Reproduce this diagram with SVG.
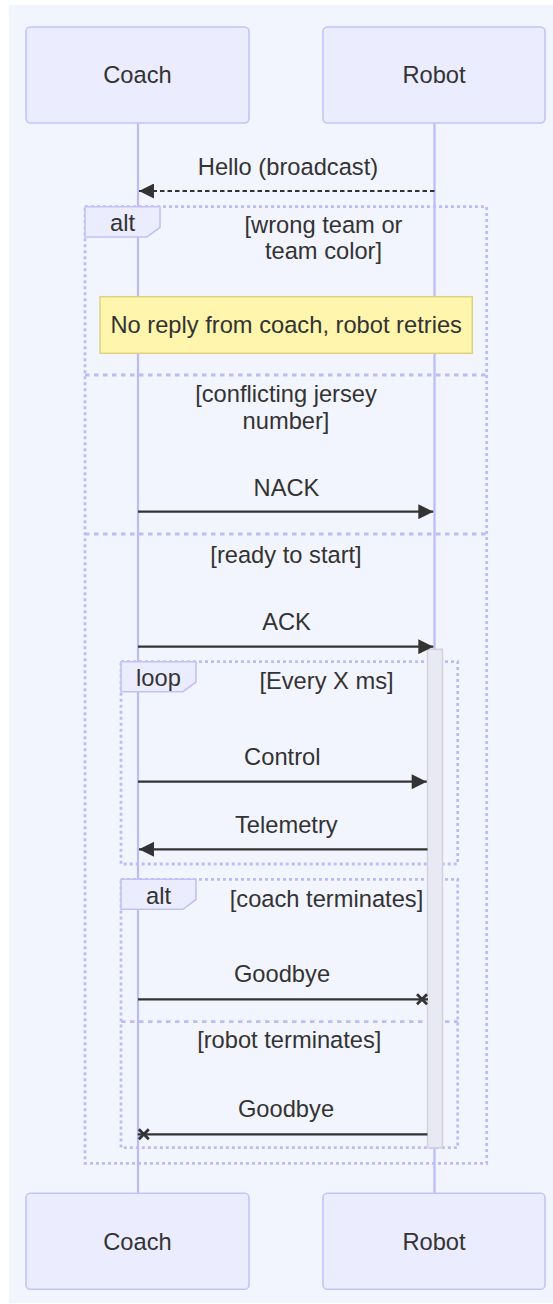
<svg xmlns="http://www.w3.org/2000/svg" width="553" height="1304" viewBox="0 0 553 1304">
  <style>
    text { font-family: "Liberation Sans", Arial, Helvetica, sans-serif; font-size: 23.7px; fill: #333333; text-anchor: middle; }
    .actor { fill: #ECECFF; stroke: #C4C4F8; stroke-width: 1.6; }
    .life { stroke: #BBBBF6; stroke-width: 2.2; }
    .frame { fill: none; stroke: #BDBDF6; stroke-width: 2.8; stroke-dasharray: 3 3; }
    .sep { fill: none; stroke: #BDBDF6; stroke-width: 2.8; stroke-dasharray: 4.5 4.5; }
    .lbl { fill: #ECECFF; stroke: #C2C2F7; stroke-width: 1.6; }
    .msg { fill: none; stroke: #333333; stroke-width: 2.2; }
    .dashed { stroke-dasharray: 4.5 3; }
    .note { fill: #FFF5AD; stroke: #DCD382; stroke-width: 1.5; }
    .activation { fill: #E9E9F3; stroke: #D2D2DE; stroke-width: 1.5; }
  </style>
  <defs>
    <marker id="arrowhead" viewBox="0 0 10 10" refX="10" refY="5" markerUnits="userSpaceOnUse" markerWidth="16" markerHeight="15" orient="auto">
      <path d="M0,0 L10,5 L0,10 z" fill="#333333"/>
    </marker>
    <marker id="crosshead" viewBox="0 0 13 13" refX="12.5" refY="6.5" markerUnits="userSpaceOnUse" markerWidth="13" markerHeight="13" orient="auto">
      <path d="M1.5,1.5 L11.5,11.5 M11.5,1.5 L1.5,11.5" stroke="#333333" stroke-width="2.8" fill="none"/>
    </marker>
  </defs>

  <!-- canvas -->
  <rect x="9" y="5" width="544" height="1298" fill="#F3F5FE"/>

  <!-- lifelines -->
  <g id="lifelines">
    <line class="life" x1="138" y1="123" x2="138" y2="1193"/>
    <line class="life" x1="434.5" y1="123" x2="434.5" y2="1193"/>
  </g>

  <!-- participants -->
  <g id="coach-top">
    <rect class="actor" x="26" y="27" width="223" height="96" rx="4.4"/>
    <text x="137.5" y="82.5">Coach</text>
  </g>
  <g id="robot-top">
    <rect class="actor" x="323" y="27" width="222" height="96" rx="4.4"/>
    <text x="434" y="82.5">Robot</text>
  </g>
  <g id="coach-bottom">
    <rect class="actor" x="26" y="1193.3" width="223" height="96" rx="4.4"/>
    <text x="137.5" y="1249.5">Coach</text>
  </g>
  <g id="robot-bottom">
    <rect class="actor" x="323" y="1193.3" width="222" height="96" rx="4.4"/>
    <text x="434" y="1249.5">Robot</text>
  </g>

  <!-- outer alt block -->
  <g id="alt-outer">
    <rect class="frame" x="85" y="206.7" width="401.7" height="956.6"/>
    <polygon class="lbl" points="85,206.7 160,206.7 160,227.5 147,237 85,237"/>
    <text x="122.5" y="230.5">alt</text>
    <text x="323.5" y="232.7">[wrong team or</text>
    <text x="323.5" y="259.3">team color]</text>
    <line class="sep" x1="85" y1="375" x2="486.7" y2="375"/>
    <text x="286" y="401.7">[conflicting jersey</text>
    <text x="286" y="429.3">number]</text>
    <line class="sep" x1="85" y1="534" x2="486.7" y2="534"/>
    <text x="286" y="563.3">[ready to start]</text>
  </g>

  <!-- loop block -->
  <g id="loop">
    <rect class="frame" x="121" y="661.7" width="336.7" height="202.3"/>
    <polygon class="lbl" points="121,661.7 196,661.7 196,682 183,691.7 121,691.7"/>
    <text x="158.5" y="686.3">loop</text>
    <text x="326.5" y="689">[Every X ms]</text>
  </g>

  <!-- inner alt block -->
  <g id="alt-inner">
    <rect class="frame" x="121" y="879.3" width="336.7" height="268.4"/>
    <polygon class="lbl" points="121,879.3 196,879.3 196,899.5 183,909.3 121,909.3"/>
    <text x="158.5" y="904">alt</text>
    <text x="326.5" y="906.5">[coach terminates]</text>
    <line class="sep" x1="121" y1="1021.7" x2="457.7" y2="1021.7"/>
    <text x="289.3" y="1048">[robot terminates]</text>
  </g>

  <!-- note -->
  <g id="note-retry">
    <rect class="note" x="100" y="296.7" width="372.3" height="56.6"/>
    <text x="286.2" y="333.3">No reply from coach, robot retries</text>
  </g>

  <!-- robot activation -->
  <g id="robot-activation">
    <rect class="activation" x="427.5" y="649.3" width="15" height="498.4"/>
  </g>

  <!-- messages -->
  <g id="messages">
    <line class="msg dashed" x1="434.5" y1="191" x2="139" y2="191" marker-end="url(#arrowhead)"/>
    <text x="288" y="175">Hello (broadcast)</text>

    <line class="msg" x1="138" y1="511.7" x2="433.3" y2="511.7" marker-end="url(#arrowhead)"/>
    <text x="286.5" y="496">NACK</text>

    <line class="msg" x1="138" y1="646.7" x2="433.3" y2="646.7" marker-end="url(#arrowhead)"/>
    <text x="286.5" y="630">ACK</text>

    <line class="msg" x1="138" y1="781.7" x2="426.7" y2="781.7" marker-end="url(#arrowhead)"/>
    <text x="282.3" y="765">Control</text>

    <line class="msg" x1="427.5" y1="849.3" x2="139" y2="849.3" marker-end="url(#arrowhead)"/>
    <text x="286.3" y="832.7">Telemetry</text>

    <line class="msg" x1="138" y1="999.3" x2="428" y2="999.3" marker-end="url(#crosshead)"/>
    <text x="282" y="981.7">Goodbye</text>

    <line class="msg" x1="427.5" y1="1134.3" x2="137.8" y2="1134.3" marker-end="url(#crosshead)"/>
    <text x="286" y="1116.7">Goodbye</text>
  </g>
</svg>
